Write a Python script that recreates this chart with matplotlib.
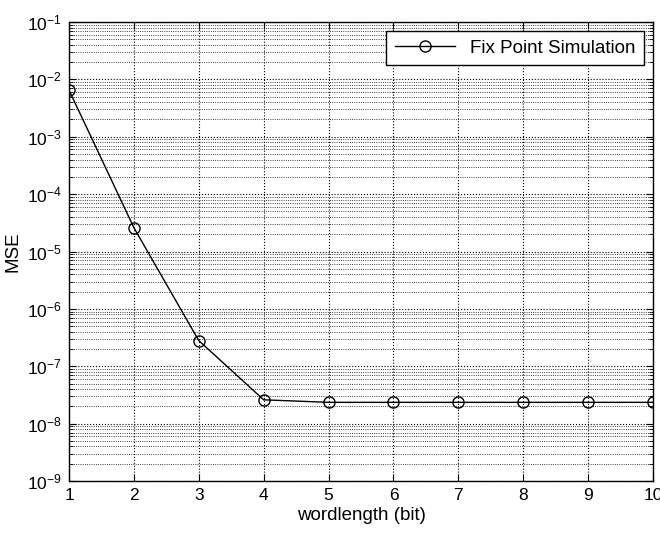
import numpy as np
import matplotlib
matplotlib.use("Agg")
import matplotlib.pyplot as plt
from matplotlib.ticker import LogLocator, FixedLocator

plt.rcParams["font.family"] = ["Liberation Sans", "DejaVu Sans"]

wordlength = [1, 2, 3, 4, 5, 6, 7, 8, 9, 10]
mse = [6.5e-3, 2.6e-5, 2.8e-7, 2.6e-8, 2.35e-8, 2.35e-8, 2.35e-8, 2.35e-8, 2.35e-8, 2.35e-8]

fig = plt.figure(figsize=(6.6, 5.33), dpi=100)
ax = fig.add_axes([69 / 660, 1 - 481 / 533, (653 - 69) / 660, (481 - 22) / 533])

ax.semilogy(wordlength, mse, color="black", linewidth=1.0, marker="o",
            markersize=8, markerfacecolor="none", markeredgecolor="black",
            markeredgewidth=1.0, label="Fix Point Simulation")

ax.set_xlim(1, 10)
ax.set_ylim(1e-9, 1e-1)
ax.xaxis.set_major_locator(FixedLocator(wordlength))
ax.yaxis.set_major_locator(LogLocator(base=10, numticks=20))
ax.yaxis.set_minor_locator(LogLocator(base=10, subs=np.arange(2, 10), numticks=20))

ax.grid(True, which="major", linestyle=":", color="black", linewidth=0.8)
ax.grid(True, which="minor", axis="y", linestyle=":", color="black", linewidth=0.6)

ax.tick_params(which="both", direction="in", top=True, right=True, labelsize=12.5)
ax.tick_params(which="major", length=5, pad=5)
ax.tick_params(which="minor", length=3)
for s in ax.spines.values():
    s.set_linewidth(1.0)

ax.set_xlabel("wordlength (bit)", fontsize=13.5, labelpad=3)
ax.set_ylabel("MSE", fontsize=13.5)

leg = ax.legend(loc="upper right", fontsize=13.5, fancybox=False, framealpha=1,
                edgecolor="black", borderaxespad=0.5, handlelength=3.2,
                borderpad=0.45)
leg.get_frame().set_linewidth(1.0)

fig.savefig("out.png", dpi=100)
